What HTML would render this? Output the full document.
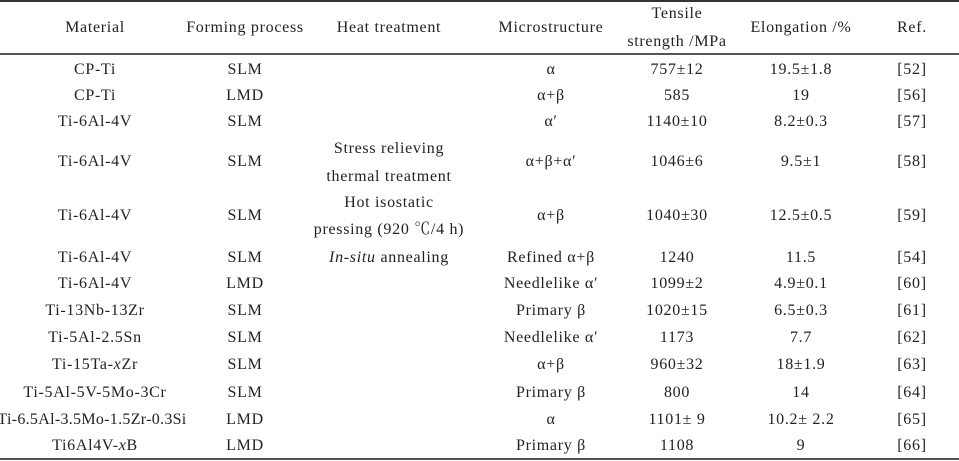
<!DOCTYPE html>
<html><head><meta charset="utf-8"><style>
body{margin:0;width:959px;height:461px;background:#fff;position:relative;overflow:hidden;font-family:"Liberation Serif","Noto Serif CJK SC",serif;font-size:16px;letter-spacing:0.7px;color:#222}
.t{position:absolute;white-space:nowrap;transform:translate(-50%,-50%);line-height:1}
.l{position:absolute;left:0;width:959px;background:#333}
</style></head><body>
<div class="l" style="top:0;height:2px"></div>
<div class="l" style="top:53px;height:1.5px;background:#555"></div>
<div class="l" style="top:458px;height:2px;background:#555"></div>
<div id="c"></div>
<script>
var cols=[95,245,389,551,677,801,912];
var H=[["Material",0,28],["Forming process",1,28],["Heat treatment",2,28],["Microstructure",3,28],["Tensile",4,14],["strength /MPa",4,42],["Elongation /%",5,28],["Ref.",6,28]];
var rows=[
[70,"CP-Ti","SLM","α","757±12","19.5±1.8","[52]"],
[96,"CP-Ti","LMD","α+β","585","19","[56]"],
[122,"Ti-6Al-4V","SLM","α′","1140±10","8.2±0.3","[57]"],
[162,"Ti-6Al-4V","SLM","α+β+α′","1046±6","9.5±1","[58]"],
[216,"Ti-6Al-4V","SLM","α+β","1040±30","12.5±0.5","[59]"],
[258,"Ti-6Al-4V","SLM","Refined α+β","1240","11.5","[54]"],
[284,"Ti-6Al-4V","LMD","Needlelike α′","1099±2","4.9±0.1","[60]"],
[311,"Ti-13Nb-13Zr","SLM","Primary β","1020±15","6.5±0.3","[61]"],
[338,"Ti-5Al-2.5Sn","SLM","Needlelike α′","1173","7.7","[62]"],
[365,"Ti-15Ta-<i>x</i>Zr","SLM","α+β","960±32","18±1.9","[63]"],
[393,"Ti-5Al-5V-5Mo-3Cr","SLM","Primary β","800","14","[64]"],
[420,"Ti-6.5Al-3.5Mo-1.5Zr-0.3Si","LMD","α","1101± 9","10.2± 2.2","[65]"],
[446,"Ti6Al4V-<i>x</i>B","LMD","Primary β","1108","9","[66]"]];
var h="";
function T(x,y,s,st){h+='<div class="t" style="left:'+x+'px;top:'+y+'px;'+(st||'')+'">'+s+'</div>';}
H.forEach(function(a){T(cols[a[1]],a[2],a[0]);});
rows.forEach(function(r){T(r[1].length>20?92:cols[0],r[0],r[1],r[1].length>20?'letter-spacing:0.3px':'');T(cols[1],r[0],r[2]);T(cols[3],r[0],r[3]);T(cols[4],r[0],r[4]);T(cols[5],r[0],r[5]);T(cols[6],r[0],r[6]);});
T(389,149,"Stress relieving");T(389,177,"thermal treatment");T(389,203,"Hot isostatic");T(389,230,"pressing (920 ℃/4 h)");T(389,258,"<i>In-situ</i> annealing");
document.getElementById("c").innerHTML=h;
</script>
</body></html>
